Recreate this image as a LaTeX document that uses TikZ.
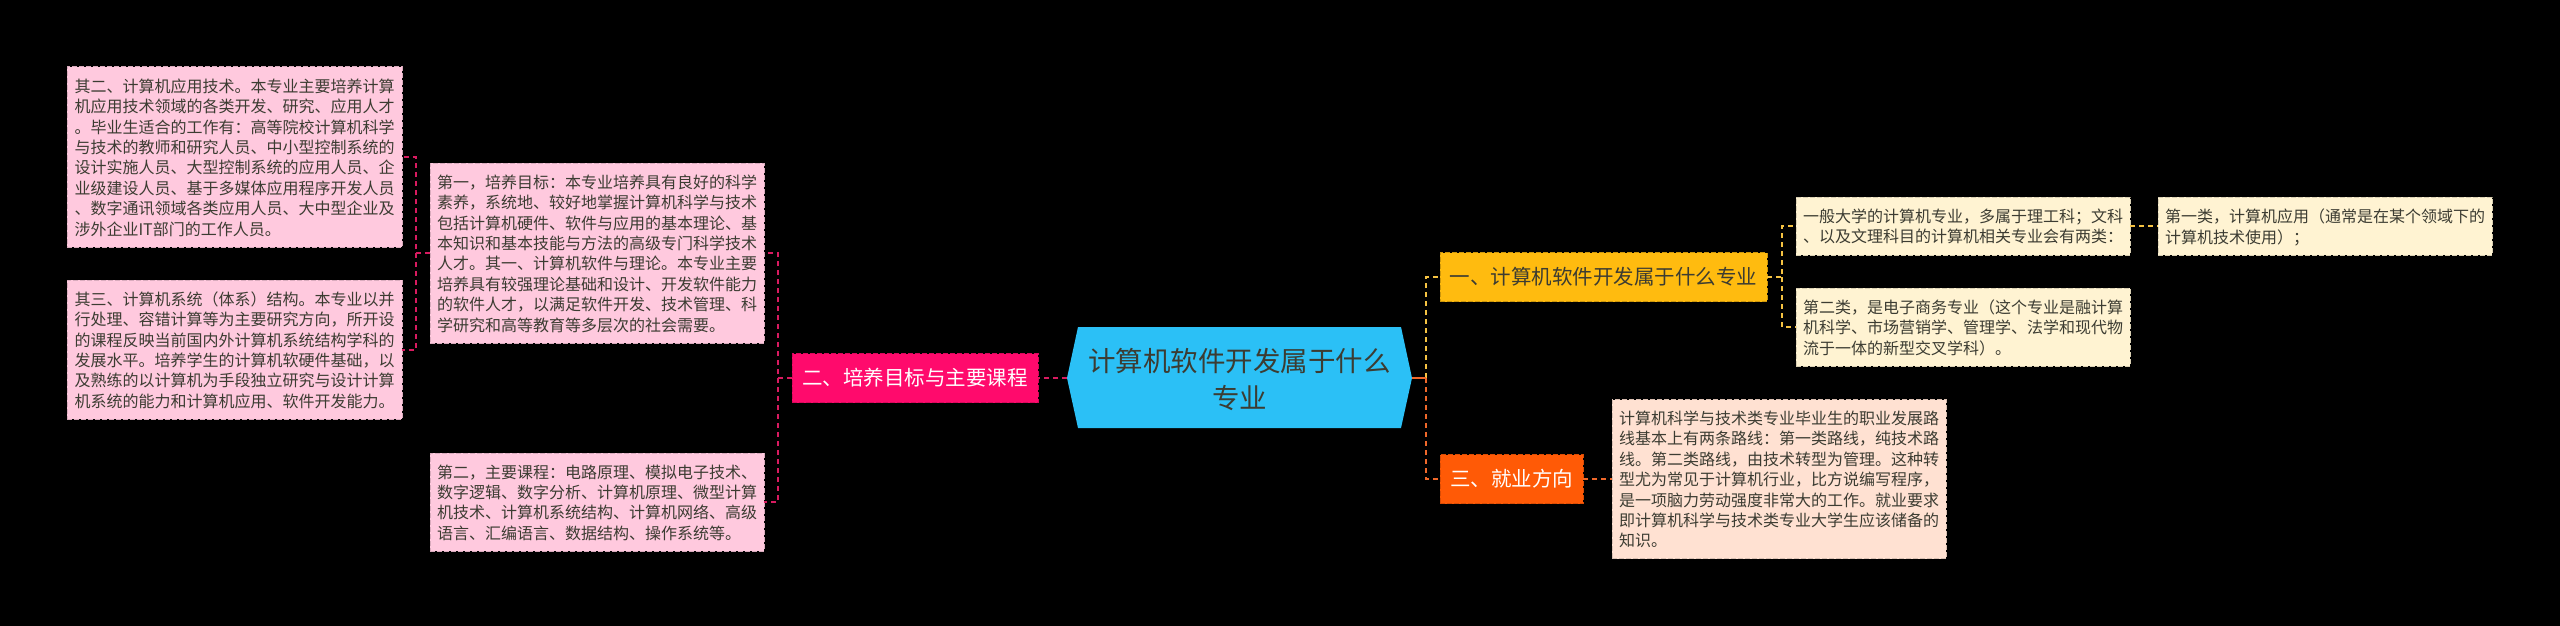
\documentclass[tikz,border=0pt]{standalone}
\usepackage{fontspec}
\setmainfont{Noto Sans CJK SC}
\definecolor{pinkfill}{HTML}{FFC9DE}
\definecolor{pinkline}{HTML}{D81B60}
\definecolor{hotpink}{HTML}{FF0A6C}
\definecolor{amberfill}{HTML}{FFBB0F}
\definecolor{amberline}{HTML}{F5C242}
\definecolor{creamfill}{HTML}{FFF3D2}
\definecolor{orangefill}{HTML}{FF5A06}
\definecolor{orangeline}{HTML}{F0682A}
\definecolor{peachfill}{HTML}{FFE1D2}
\definecolor{skyfill}{HTML}{2BC0F6}
\definecolor{inkdark}{HTML}{3C3C32}
\tikzset{
  every node/.style={inner sep=0pt,outer sep=0pt},
  base/.style={rectangle,draw,line width=1pt,dash pattern=on 5pt off 2pt},
  leaf/.style={base,align=left,font=\fontsize{16}{20.4}\selectfont,text=inkdark,text depth=0pt},
  pinkleaf/.style={leaf,fill=pinkfill,draw=pinkfill!85!black},
  creamleaf/.style={leaf,fill=creamfill,draw=creamfill!85!black},
  peachleaf/.style={leaf,fill=peachfill,draw=peachfill!85!black},
  branch/.style={base,font=\fontsize{20.5}{26}\selectfont},
  link/.style={line width=2pt,dash pattern=on 5pt off 4pt},
  pinklink/.style={link,draw=pinkline},
  amberlink/.style={link,draw=amberline},
  orangelink/.style={link,draw=orangeline},
}
\begin{document}
\begin{tikzpicture}[x=1pt,y=-1pt]
\useasboundingbox (0,0) rectangle (2560,626);
\fill[black] (0,0) rectangle (2560,626);
% root
\coordinate (rootw) at (1067,378);
\coordinate (roote) at (1412,378);
\fill[skyfill] (1078,327) -- (1401,327) -- (roote) -- (1401,428) -- (1078,428) -- (rootw) -- cycle;
\node[font=\fontsize{27.5}{37}\selectfont,text=inkdark,align=center] (root) at (1239.5,379) {计算机软件开发属于什么\\专业};
% left side
\node[pinkleaf,minimum width=335pt,minimum height=180pt] (a) at (234.5,157) {其二、计算机应用技术。本专业主要培养计算\\机应用技术领域的各类开发、研究、应用人才\\。毕业生适合的工作有：高等院校计算机科学\\与技术的教师和研究人员、中小型控制系统的\\设计实施人员、大型控制系统的应用人员、企\\业级建设人员、基于多媒体应用程序开发人员\\、数字通讯领域各类应用人员、大中型企业及\\涉外企业IT部门的工作人员。};
\node[pinkleaf,minimum width=335pt,minimum height=139pt] (b) at (234.5,349.5) {其三、计算机系统（体系）结构。本专业以并\\行处理、容错计算等为主要研究方向，所开设\\的课程反映当前国内外计算机系统结构学科的\\发展水平。培养学生的计算机软硬件基础，以\\及熟练的以计算机为手段独立研究与设计计算\\机系统的能力和计算机应用、软件开发能力。};
\node[pinkleaf,minimum width=334pt,minimum height=180pt] (c) at (597,253) {第一，培养目标：本专业培养具有良好的科学\\素养，系统地、较好地掌握计算机科学与技术\\包括计算机硬件、软件与应用的基本理论、基\\本知识和基本技能与方法的高级专门科学技术\\人才。其一、计算机软件与理论。本专业主要\\培养具有较强理论基础和设计、开发软件能力\\的软件人才，以满足软件开发、技术管理、科\\学研究和高等教育等多层次的社会需要。};
\node[pinkleaf,minimum width=334pt,minimum height=98pt] (d) at (597,502) {第二，主要课程：电路原理、模拟电子技术、\\数字逻辑、数字分析、计算机原理、微型计算\\机技术、计算机系统结构、计算机网络、高级\\语言、汇编语言、数据结构、操作系统等。};
\node[branch,fill=hotpink,draw=hotpink!85!black,text=white,minimum width=246pt,minimum height=49pt] (e) at (915,378) {二、培养目标与主要课程};
% right side
\node[branch,fill=amberfill,draw=amberfill!80!black,text=inkdark,minimum width=327pt,minimum height=49pt] (f) at (1603.5,277) {一、计算机软件开发属于什么专业};
\node[branch,fill=orangefill,draw=orangefill!85!black,text=white,minimum width=143pt,minimum height=49pt] (g) at (1511.5,479) {三、就业方向};
\node[peachleaf,minimum width=334pt,minimum height=159pt] (h) at (1779,479) {计算机科学与技术类专业毕业生的职业发展路\\线基本上有两条路线：第一类路线，纯技术路\\线。第二类路线，由技术转型为管理。这种转\\型尤为常见于计算机行业，比方说编写程序，\\是一项脑力劳动强度非常大的工作。就业要求\\即计算机科学与技术类专业大学生应该储备的\\知识。};
\node[creamleaf,minimum width=334pt,minimum height=58pt] (i) at (1963,226) {一般大学的计算机专业，多属于理工科；文科\\、以及文理科目的计算机相关专业会有两类：};
\node[creamleaf,minimum width=334pt,minimum height=78pt] (j) at (1963,327) {第二类，是电子商务专业（这个专业是融计算\\机科学、市场营销学、管理学、法学和现代物\\流于一体的新型交叉学科）。};
\node[creamleaf,minimum width=334pt,minimum height=58pt] (k) at (2325,226) {第一类，计算机应用（通常是在某个领域下的\\计算机技术使用）；};
% trunks
\coordinate (t1) at (416,253);
\coordinate (t2) at (778,378);
\coordinate (t3) at (1426,378);
\coordinate (t4) at (1782,277);
% connectors
\draw[pinklink] (c.west) -- (t1) |- (a.east);
\draw[pinklink] (t1) |- (b.east);
\draw[pinklink] (e.west) -- (t2) |- (c.east);
\draw[pinklink] (t2) |- (d.east);
\draw[pinklink] (rootw) -- (e.east);
\draw[amberlink] (t3) |- (f.west);
\draw[orangelink] (t3) |- (g.west);
\draw[orangeline,line width=2pt] (roote) -- (t3);
\draw[orangelink] (g.east) -- (h.west);
\draw[amberlink] (f.east) -- (t4) |- (i.west);
\draw[amberlink] (t4) |- (j.west);
\draw[amberlink] (i.east) -- (k.west);
\end{tikzpicture}
\end{document}
